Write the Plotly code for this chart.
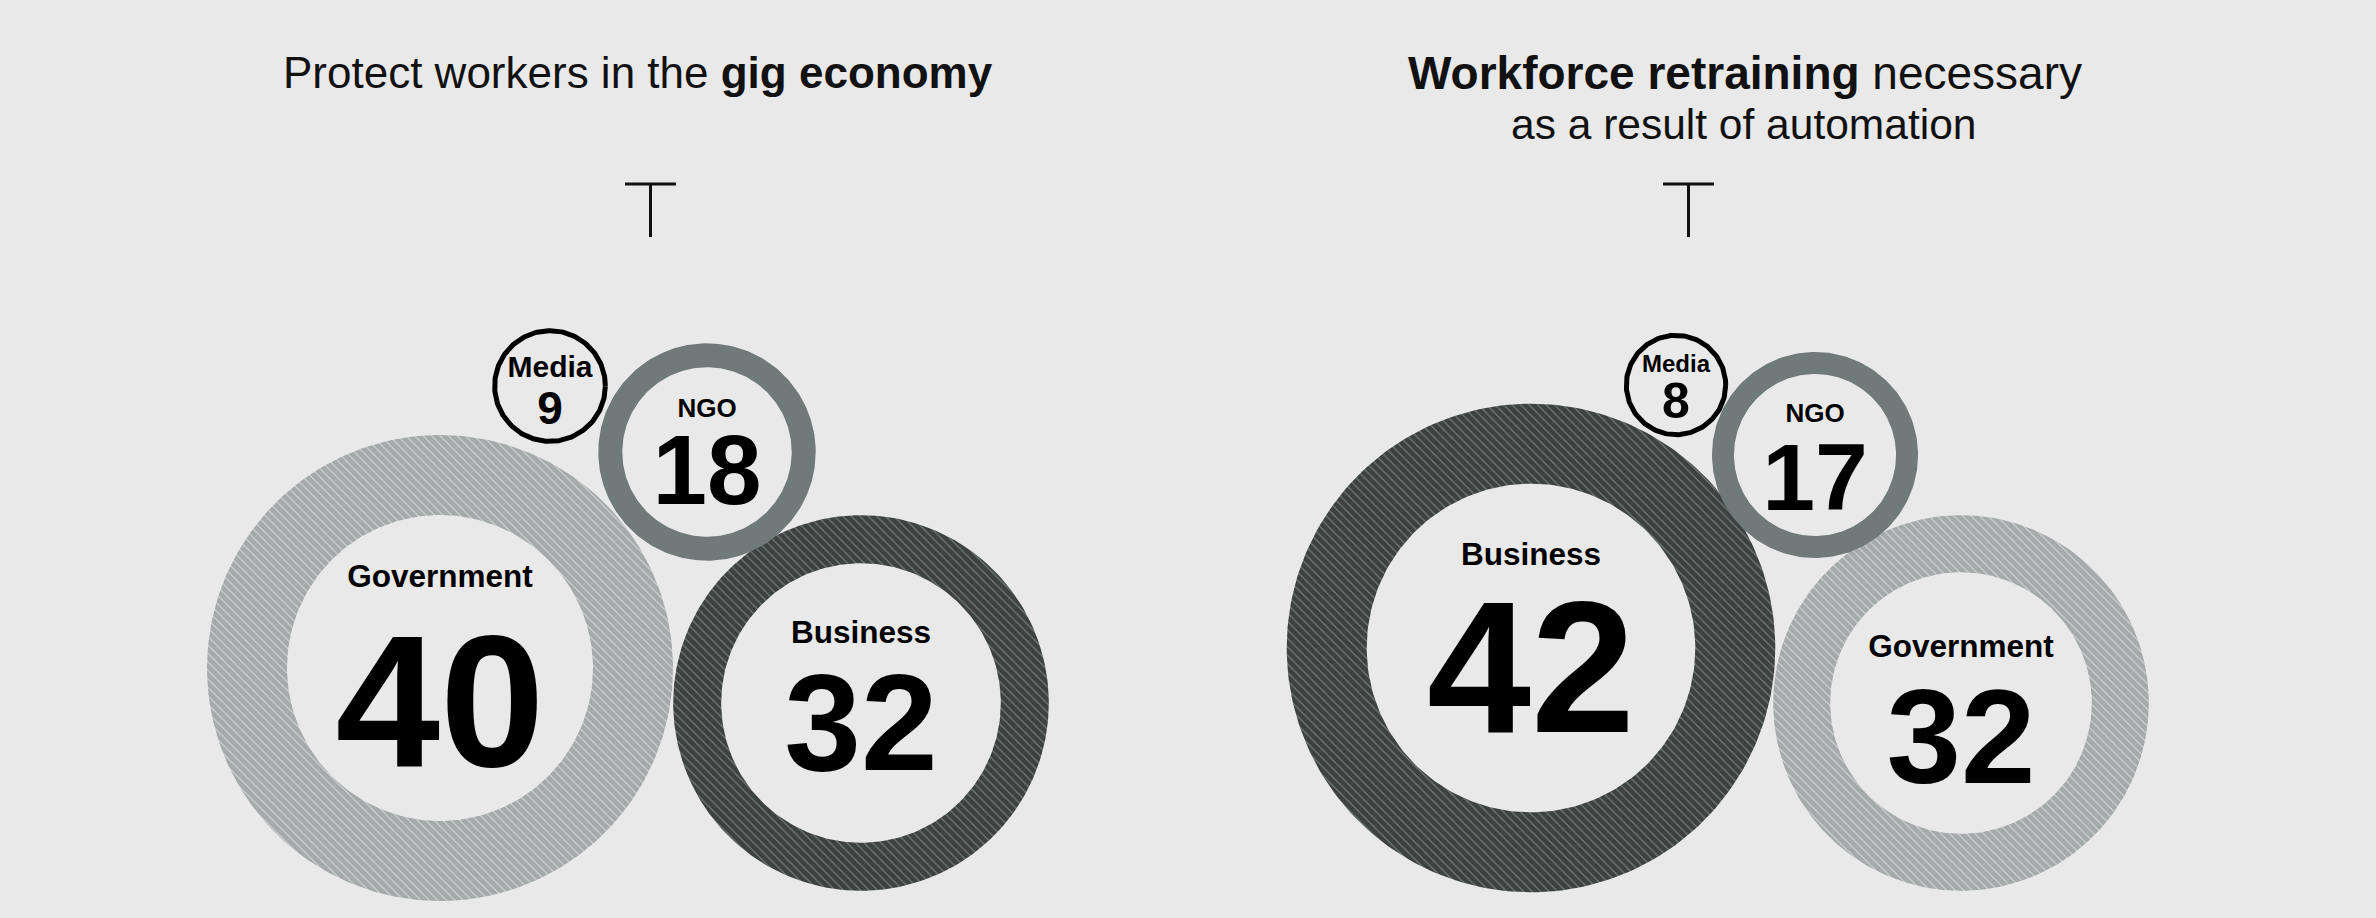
import numpy as np
import plotly.graph_objects as go

W, H = 2376, 918

# ---- data ----
left_title = "Protect workers in the <b>gig economy</b>"
right_title = ["<b>Workforce retraining</b> necessary", "as a result of automation"]

left_groups = ["Government", "Business", "NGO", "Media"]
left_values = [40, 32, 18, 9]

right_groups = ["Business", "Government", "NGO", "Media"]
right_values = [42, 32, 17, 8]

# ---- layout of the bubbles (pixel space) ----
left_centers = [(440, 668), (861, 703), (707, 452), (550, 386)]
right_centers = [(1531, 648), (1961, 703), (1815, 455), (1676, 385)]
left_ring = [80, 48, 24, 5]
right_ring = [80, 57, 22, 5]
# offsets of the cap-height centre of label / number from bubble centre
left_label_dy = [-92, -71, -44, -19.5]
left_value_dy = [32, 19, 18, 21.5]
right_label_dy = [-94, -57, -42, -21]
right_value_dy = [19, 33, 22, 15]
left_label_size = [31.5, 31.5, 26, 30]
left_value_size = [188, 138, 98, 46]
right_label_size = [31.5, 31.5, 26, 24]
right_value_size = [187, 134, 95, 50]

# radius in px from the value
def radius(v):
    return 7 + 5.65 * v

TEAL = "#707a78"
styles = {
    "Government": dict(kind="hatch", fg=TEAL, bg="#d8dada", solidity=0.85),
    "Business": dict(kind="hatch", fg="#0a0a0a", bg=TEAL, solidity=0.8),
    "NGO": dict(kind="solid", fg=TEAL),
    "Media": dict(kind="outline", fg="#000000"),
}

BG = "#e9e9e9"
FONT = "Arial, Liberation Sans, sans-serif"
theta = np.linspace(0, 2 * np.pi, 241)

fig = go.Figure()


def add_panel(groups, values, centers, rings, label_dy, value_dy, label_size, value_size):
    for g, v, (cx, cy), rw in zip(groups, values, centers, rings):
        R = radius(v)
        st = styles[g]
        if st["kind"] == "outline":
            rr = R - rw / 2
            fig.add_trace(go.Scatter(
                x=cx + rr * np.cos(theta), y=cy + rr * np.sin(theta),
                mode="lines", line=dict(color=st["fg"], width=rw),
                hoverinfo="skip", showlegend=False))
            continue
        r = R - rw
        xs = np.concatenate([cx + R * np.cos(theta), cx + r * np.cos(theta[::-1])])
        ys = np.concatenate([cy + R * np.sin(theta), cy + r * np.sin(theta[::-1])])
        if st["kind"] == "hatch":
            fig.add_trace(go.Scatter(
                x=xs, y=ys, mode="lines", fill="toself", fillcolor=st["bg"],
                fillpattern=dict(shape="\\", fgcolor=st["fg"], bgcolor=st["bg"],
                                 size=6, solidity=st["solidity"]),
                line=dict(width=0), hoverinfo="skip", showlegend=False))
        else:
            fig.add_trace(go.Scatter(
                x=xs, y=ys, mode="lines", fill="toself", fillcolor=st["fg"],
                line=dict(width=0), hoverinfo="skip", showlegend=False))

    # labels and numbers (plotly puts the baseline 0.25em below the point,
    # so shift by ~0.1em to centre the cap height)
    tx, ty, tt, ts = [], [], [], []
    for i, (g, v, (cx, cy)) in enumerate(zip(groups, values, centers)):
        tx += [cx, cx]
        ty += [cy + label_dy[i] + 0.1 * label_size[i],
               cy + value_dy[i] + 0.1 * value_size[i]]
        tt += ["<b>%s</b>" % g, "<b>%d</b>" % v]
        ts += [label_size[i], value_size[i]]
    fig.add_trace(go.Scatter(
        x=tx, y=ty, mode="text", text=tt, textposition="middle center",
        textfont=dict(family=FONT, size=ts, color="#000000"),
        hoverinfo="skip", showlegend=False))


add_panel(left_groups, left_values, left_centers, left_ring,
          left_label_dy, left_value_dy, left_label_size, left_value_size)
add_panel(right_groups, right_values, right_centers, right_ring,
          right_label_dy, right_value_dy, right_label_size, right_value_size)

# titles
fig.add_annotation(x=638, y=72, text=left_title, showarrow=False,
                   xanchor="center", yanchor="middle",
                   font=dict(family=FONT, size=44, color="#111111"))
fig.add_annotation(x=1745, y=73, text=right_title[0], showarrow=False,
                   xanchor="center", yanchor="middle",
                   font=dict(family=FONT, size=46, color="#111111"))
fig.add_annotation(x=1743, y=124, text=right_title[1], showarrow=False,
                   xanchor="center", yanchor="middle",
                   font=dict(family=FONT, size=42.5, color="#111111"))

# the little "T" marks under each title
for bx in [650.5, 1688.5]:
    fig.add_shape(type="line", x0=bx - 25.5, x1=bx + 25.5, y0=184, y1=184,
                  line=dict(color="#111111", width=3))
    fig.add_shape(type="line", x0=bx, x1=bx, y0=184, y1=237,
                  line=dict(color="#111111", width=3))

fig.update_layout(
    width=W, height=H, autosize=False,
    margin=dict(l=0, r=0, t=0, b=0),
    paper_bgcolor=BG, plot_bgcolor=BG,
    xaxis=dict(range=[0, W], visible=False, fixedrange=True),
    yaxis=dict(range=[H, 0], visible=False, fixedrange=True),
    showlegend=False,
)

fig.write_html("out.html", config={"displayModeBar": False},
               post_script="document.body.style.margin='0';"
                           "document.body.style.background='%s';" % BG)
